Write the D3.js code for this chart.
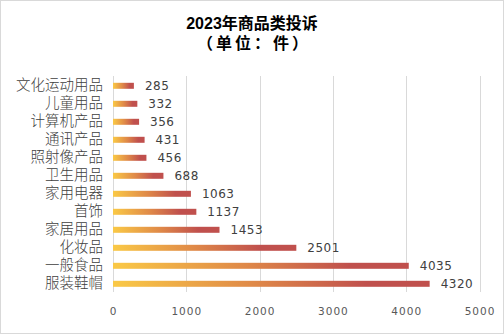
<!DOCTYPE html>
<html><head><meta charset="utf-8">
<script src="https://cdn.jsdelivr.net/npm/d3@7/dist/d3.min.js"></script>
<style>
html,body{margin:0;padding:0;background:#fff;}
svg{display:block;font-family:"Liberation Sans","Noto Sans CJK SC",sans-serif;}
</style></head>
<body>
<svg id="chart" width="504" height="334"></svg>
<script>
const categories = ["文化运动用品","儿童用品","计算机产品","通讯产品","照射像产品","卫生用品","家用电器","首饰","家居用品","化妆品","一般食品","服装鞋帽"];
const values = [285,332,356,431,456,688,1063,1137,1453,2501,4035,4320];
const tickValues = [0,1000,2000,3000,4000,5000];
const titleLines = ["2023年商品类投诉","（单位：件）"];

const svg = d3.select("#chart");
const W = 504, H = 334;
svg.append("rect").attr("x",0.5).attr("y",0.5).attr("width",W-1).attr("height",H-1)
  .attr("fill","#fff").attr("stroke","#d9d9d9");

const defs = svg.append("defs");
const grad = defs.append("linearGradient").attr("id","barGrad")
  .attr("x1","0%").attr("x2","100%").attr("y1","0%").attr("y2","0%");
grad.append("stop").attr("offset","0%").attr("stop-color","#fac946");
grad.append("stop").attr("offset","45%").attr("stop-color","#df8848");
grad.append("stop").attr("offset","80%").attr("stop-color","#c0504d");
grad.append("stop").attr("offset","100%").attr("stop-color","#c0504d");

const x = d3.scaleLinear().domain([0,5000]).range([113,479.5]);
const y = d3.scaleBand().domain(categories).range([76.5,292.5]).paddingInner(0.6).paddingOuter(0.3);

// gridlines
svg.append("g").selectAll("line").data(tickValues).join("line")
  .attr("x1",d=>Math.round(x(d))+0.5).attr("x2",d=>Math.round(x(d))+0.5)
  .attr("y1",76).attr("y2",292)
  .attr("stroke","#d9d9d9").attr("stroke-width",1);

// x axis labels
const xAxis = d3.axisBottom(x).tickValues(tickValues).tickSize(0).tickPadding(0).tickFormat(d3.format("d"));
const gx = svg.append("g").attr("transform","translate(0,308)").call(xAxis);
gx.select(".domain").remove();
gx.selectAll("text").attr("fill","#595959")
  .attr("font-family","'DejaVu Sans',sans-serif").attr("letter-spacing","1px").attr("font-size","10.5px");

// y axis labels
const yAxis = d3.axisLeft(y).tickSize(0).tickPadding(0);
const gy = svg.append("g").attr("transform","translate(103,0)").call(yAxis);
gy.select(".domain").remove();
gy.selectAll("text").attr("fill","#404040").attr("font-size","14.5px")
  .attr("font-weight","300")
  .attr("font-family","'Liberation Sans','Noto Sans CJK SC',sans-serif");

// bars
const bh = 6;
svg.append("g").selectAll("rect").data(categories).join("rect")
  .attr("x",x(0))
  .attr("y",(d)=>y(d)+y.bandwidth()/2-bh/2+0.3)
  .attr("width",(d,i)=>x(values[i])-x(0))
  .attr("height",bh)
  .attr("fill","url(#barGrad)");

// value labels
svg.append("g").selectAll("text").data(categories).join("text")
  .attr("x",(d,i)=>x(values[i])+11)
  .attr("y",d=>y(d)+y.bandwidth()/2)
  .attr("dy","0.35em")
  .attr("fill","#404040")
  .attr("font-size","12px")
  .attr("font-family","'DejaVu Sans',sans-serif")
  .attr("letter-spacing","0.5px")
  .text((d,i)=>values[i]);

// title
svg.append("g").selectAll("text").data(titleLines).join("text")
  .attr("x",(d,i)=>i?254:252).attr("y",(d,i)=>29+i*20)
  .attr("text-anchor","middle")
  .attr("letter-spacing",(d,i)=>i?"3px":null)
  .attr("font-weight","bold").attr("font-size","16px").attr("fill","#000")
  .attr("font-family","'Liberation Sans','Noto Sans CJK SC',sans-serif")
  .text(d=>d);
</script>
</body></html>
